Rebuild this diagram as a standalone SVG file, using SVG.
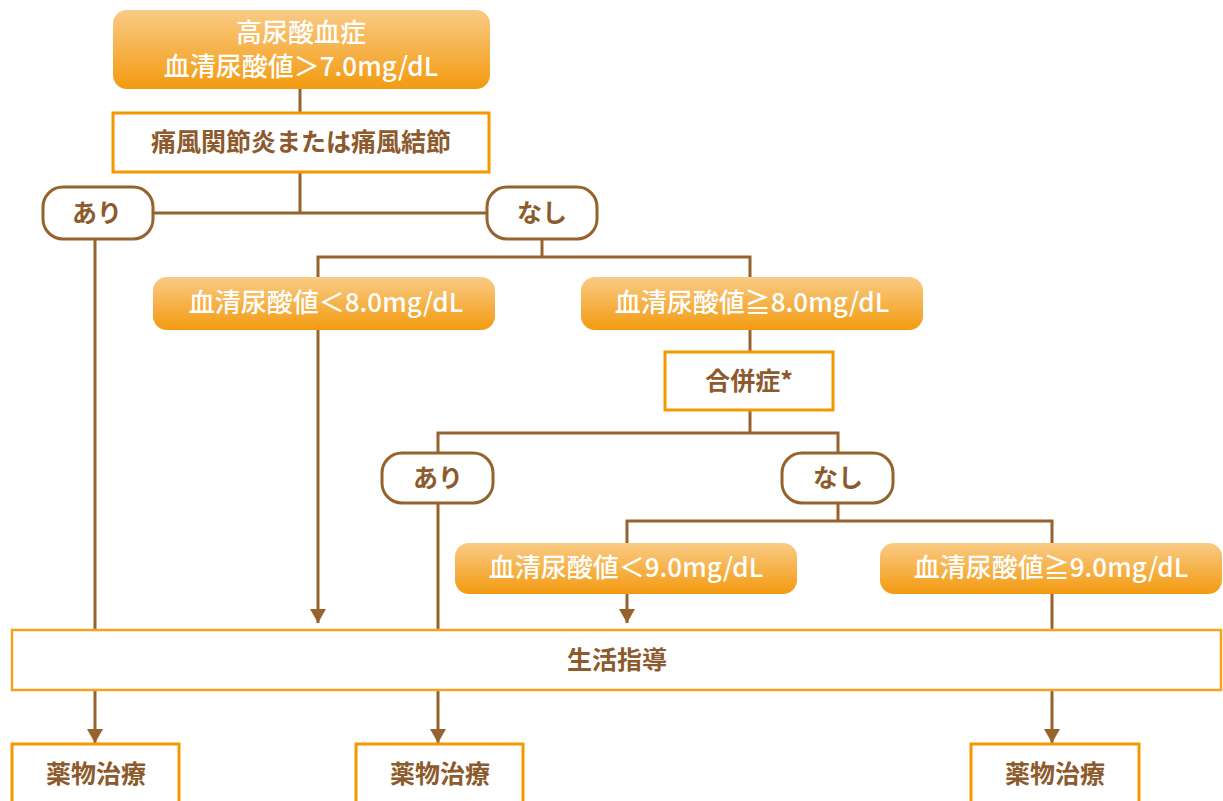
<svg xmlns="http://www.w3.org/2000/svg" width="1223" height="801" viewBox="0 0 1223 801">
<defs>
<linearGradient id="og" x1="0" y1="0" x2="0" y2="1">
<stop offset="0" stop-color="#f9cb85"/>
<stop offset="1" stop-color="#f39a10"/>
</linearGradient>
<marker id="arr" markerUnits="userSpaceOnUse" markerWidth="14" markerHeight="16" refX="14" refY="8" orient="auto">
<path d="M0,0 L14,8 L0,16 z" fill="#96622d"/>
</marker>
</defs>
<style>
.g{fill:url(#og);}
.wt{fill:#ffffff;font-family:"Noto Sans CJK JP","Noto Sans",sans-serif;font-size:26px;font-weight:500;text-anchor:middle;}
.bt{fill:#8c5a2c;font-family:"Noto Sans CJK JP","Noto Sans",sans-serif;font-size:25px;font-weight:bold;text-anchor:middle;}
.ob{fill:#ffffff;stroke:#f39800;stroke-width:3;}
.ob2{fill:#ffffff;stroke:#f5a21f;stroke-width:2.5;}
.pill{fill:#ffffff;stroke:#96622d;stroke-width:3;}
.c{fill:none;stroke:#96622d;stroke-width:3;}
.ca{fill:none;stroke:#96622d;stroke-width:3;marker-end:url(#arr);}
</style>
<g id="connectors">
<path class="c" d="M300,89 V113"/>
<path class="c" d="M300,172 V213"/>
<path class="c" d="M153,213 H487"/>
<path class="c" d="M95,239 V630"/>
<path class="ca" d="M95,690 V743"/>
<path class="c" d="M542,239 V257"/>
<path class="c" d="M318,277 V257 H750 V277"/>
<path class="ca" d="M318,330 V623"/>
<path class="c" d="M750,330 V352"/>
<path class="c" d="M750,410 V433"/>
<path class="c" d="M438,453 V433 H838 V453"/>
<path class="c" d="M438,503 V630"/>
<path class="ca" d="M438,690 V743"/>
<path class="c" d="M838,503 V521"/>
<path class="c" d="M627,543 V521 H1052 V543"/>
<path class="ca" d="M627,594 V623"/>
<path class="c" d="M1052,594 V630"/>
<path class="ca" d="M1052,690 V743"/>
</g>
<g id="n-top">
<rect class="g" x="113" y="10" width="377" height="79" rx="14"/>
<text class="wt" x="301" y="42">高尿酸血症</text>
<text class="wt" x="301" y="76">血清尿酸値＞7.0mg/dL</text>
</g>
<g id="n-gout">
<rect class="ob" x="113" y="113" width="376" height="59"/>
<text class="bt" x="301" y="151">痛風関節炎または痛風結節</text>
</g>
<g id="n-yes1">
<rect class="pill" x="43" y="187" width="110" height="52" rx="20"/>
<text class="bt" x="97" y="222">あり</text>
</g>
<g id="n-no1">
<rect class="pill" x="487" y="187" width="110" height="52" rx="20"/>
<text class="bt" x="542" y="222">なし</text>
</g>
<g id="n-lt8">
<rect class="g" x="153" y="277" width="342" height="53" rx="14"/>
<text class="wt" x="326" y="312">血清尿酸値＜8.0mg/dL</text>
</g>
<g id="n-ge8">
<rect class="g" x="581" y="277" width="342" height="53" rx="14"/>
<text class="wt" x="752" y="312">血清尿酸値≧8.0mg/dL</text>
</g>
<g id="n-comp">
<rect class="ob" x="665" y="352" width="168" height="58"/>
<text class="bt" x="749" y="390">合併症*</text>
</g>
<g id="n-yes2">
<rect class="pill" x="382" y="453" width="111" height="50" rx="20"/>
<text class="bt" x="438" y="487">あり</text>
</g>
<g id="n-no2">
<rect class="pill" x="782" y="453" width="111" height="50" rx="20"/>
<text class="bt" x="838" y="487">なし</text>
</g>
<g id="n-lt9">
<rect class="g" x="455" y="543" width="342" height="51" rx="14"/>
<text class="wt" x="626" y="577">血清尿酸値＜9.0mg/dL</text>
</g>
<g id="n-ge9">
<rect class="g" x="880" y="543" width="342" height="51" rx="14"/>
<text class="wt" x="1051" y="577">血清尿酸値≧9.0mg/dL</text>
</g>
<g id="n-life">
<rect class="ob2" x="12" y="630" width="1209" height="60"/>
<text class="bt" x="617" y="669">生活指導</text>
</g>
<g id="n-drug1">
<rect class="ob" x="12" y="744" width="167" height="62"/>
<text class="bt" x="96" y="783">薬物治療</text>
</g>
<g id="n-drug2">
<rect class="ob" x="356" y="744" width="167" height="62"/>
<text class="bt" x="440" y="783">薬物治療</text>
</g>
<g id="n-drug3">
<rect class="ob" x="971" y="744" width="168" height="62"/>
<text class="bt" x="1055" y="783">薬物治療</text>
</g>
</svg>
